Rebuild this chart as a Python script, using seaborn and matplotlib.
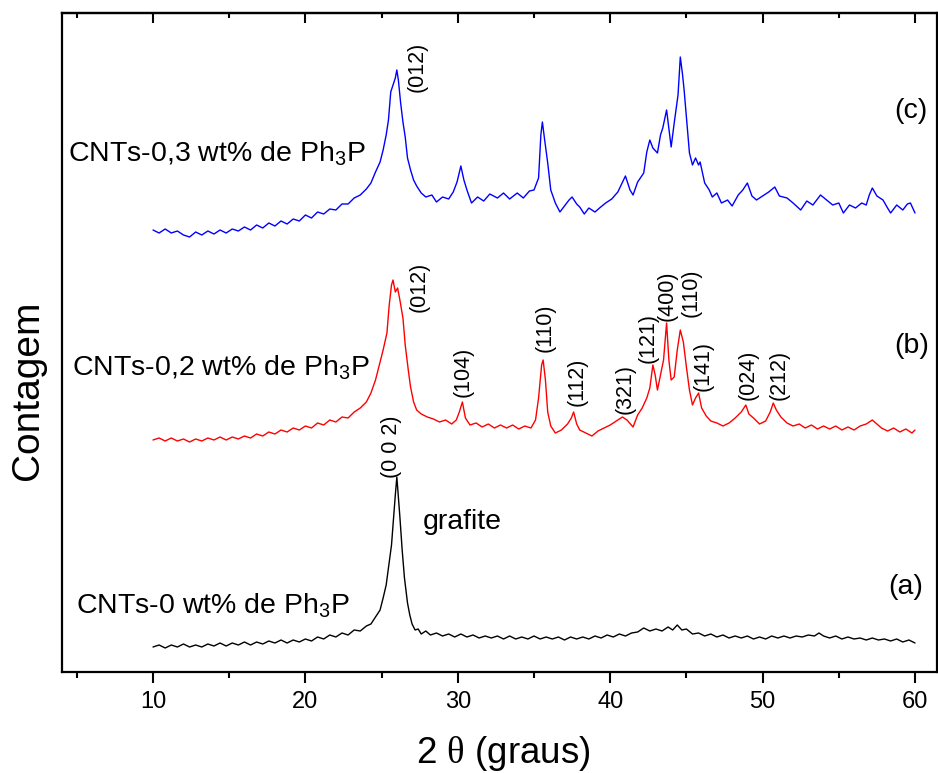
import numpy as np
import pandas as pd
import matplotlib
matplotlib.use("Agg")
import matplotlib.pyplot as plt
from matplotlib.ticker import FixedLocator
import seaborn as sns

# ---------------- data (2theta, intensity in arbitrary stacked units) ----------------
two_theta_a = [10.0, 10.4, 10.8, 11.2, 11.6, 12.0, 12.4, 12.8, 13.2, 13.6, 14.0, 14.4, 14.8, 15.2, 15.6,
               16.0, 16.4, 16.8, 17.2, 17.6, 18.0, 18.4, 18.8, 19.2, 19.6, 20.0, 20.4, 20.8, 21.2, 21.6,
               22.0, 22.4, 22.8, 23.2, 23.6, 24.0, 24.3, 24.6, 24.9, 25.1, 25.3, 25.5, 25.65, 25.8, 25.9,
               26.0, 26.1, 26.2, 26.35, 26.5, 26.7, 26.85, 27.0, 27.2, 27.4, 27.6, 27.9, 28.2, 28.6, 29.0,
               29.4, 29.8, 30.2, 30.6, 31.0, 31.4, 31.8, 32.2, 32.6, 33.0, 33.4, 33.8, 34.2, 34.6, 35.0,
               35.4, 35.8, 36.2, 36.6, 37.0, 37.4, 37.8, 38.2, 38.6, 39.0, 39.4, 39.8, 40.2, 40.6, 41.0,
               41.4, 41.8, 42.2, 42.6, 43.0, 43.4, 43.8, 44.1, 44.4, 44.7, 45.0, 45.4, 45.8, 46.2, 46.6,
               47.0, 47.4, 47.8, 48.2, 48.6, 49.0, 49.4, 49.8, 50.2, 50.6, 51.0, 51.4, 51.8, 52.2, 52.6,
               53.0, 53.4, 53.7, 54.0, 54.4, 54.8, 55.2, 55.6, 56.0, 56.4, 56.8, 57.2, 57.6, 58.0, 58.4,
               58.8, 59.2, 59.6, 60.0]
counts_a = [25, 27, 24, 27, 25, 28, 25, 27, 25, 28, 26, 29, 26, 29, 27,
            30, 27, 30, 28, 31, 29, 32, 29, 32, 30, 33, 31, 35, 33, 37,
            35, 39, 37, 42, 41, 46, 48, 55, 62, 74, 87, 110, 127, 157, 177,
            195, 175, 155, 122, 94, 69, 57, 48, 42, 43, 38, 41, 37, 39, 36,
            38, 35, 38, 35, 37, 34, 36, 34, 36, 33, 36, 33, 35, 33, 36,
            33, 35, 33, 35, 32, 35, 33, 35, 33, 36, 34, 37, 35, 38, 36,
            39, 40, 44, 41, 43, 41, 45, 42, 47, 42, 43, 38, 39, 36, 38,
            35, 37, 34, 36, 34, 36, 33, 35, 33, 36, 34, 36, 34, 36, 35,
            37, 36, 39, 36, 34, 36, 33, 35, 33, 34, 32, 34, 32, 33, 31,
            33, 30, 32, 29]

two_theta_b = [10.0, 10.4, 10.8, 11.2, 11.6, 12.0, 12.4, 12.8, 13.2, 13.6, 14.0, 14.4, 14.8, 15.2, 15.6,
               16.0, 16.4, 16.8, 17.2, 17.6, 18.0, 18.4, 18.8, 19.2, 19.6, 20.0, 20.4, 20.8, 21.2, 21.6,
               22.0, 22.4, 22.8, 23.2, 23.6, 24.0, 24.3, 24.6, 24.9, 25.1, 25.35, 25.5, 25.65, 25.75, 25.9,
               26.05, 26.2, 26.4, 26.55, 26.75, 26.9, 27.1, 27.3, 27.6, 28.0, 28.4, 28.8, 29.2, 29.6, 29.9,
               30.1, 30.3, 30.5, 30.8, 31.2, 31.6, 32.0, 32.4, 32.8, 33.2, 33.6, 34.0, 34.4, 34.8, 35.1,
               35.3, 35.5, 35.6, 35.75, 35.9, 36.1, 36.4, 36.8, 37.2, 37.45, 37.6, 37.8, 38.0, 38.4, 38.8,
               39.2, 39.6, 40.0, 40.4, 40.8, 41.1, 41.5, 41.8, 42.1, 42.4, 42.6, 42.8, 42.95, 43.1, 43.3,
               43.5, 43.7, 43.85, 44.0, 44.2, 44.4, 44.6, 44.8, 45.0, 45.2, 45.4, 45.6, 45.8, 46.0, 46.3,
               46.6, 47.0, 47.4, 47.8, 48.2, 48.6, 48.9, 49.1, 49.4, 49.8, 50.2, 50.5, 50.7, 50.9, 51.2,
               51.6, 52.0, 52.4, 52.8, 53.2, 53.6, 54.0, 54.4, 54.8, 55.2, 55.6, 56.0, 56.4, 56.8, 57.2,
               57.5, 57.8, 58.2, 58.6, 59.0, 59.4, 59.8, 60.0]
counts_b = [232, 234, 231, 234, 231, 233, 230, 233, 231, 234, 232, 235, 232, 235, 233,
            236, 234, 238, 236, 240, 238, 242, 240, 244, 242, 246, 244, 249, 247, 252,
            250, 255, 254, 260, 264, 270, 279, 292, 310, 322, 339, 367, 387, 392, 380,
            384, 372, 354, 327, 302, 285, 270, 262, 258, 255, 253, 250, 252, 248, 252,
            260, 270, 254, 247, 249, 245, 248, 244, 247, 244, 247, 243, 246, 244, 252,
            274, 307, 312, 292, 260, 246, 239, 242, 248, 254, 260, 248, 242, 239, 236,
            241, 244, 247, 251, 255, 252, 245, 257, 264, 274, 284, 307, 297, 282, 297,
            312, 349, 312, 292, 295, 322, 342, 330, 305, 282, 267, 274, 279, 264, 256,
            251, 249, 246, 249, 254, 260, 267, 258, 254, 248, 251, 260, 269, 262, 255,
            249, 246, 248, 244, 247, 243, 246, 243, 246, 242, 245, 242, 246, 248, 252,
            248, 244, 241, 244, 240, 243, 239, 242]

two_theta_c = [10.0, 10.4, 10.8, 11.2, 11.6, 12.0, 12.4, 12.8, 13.2, 13.6, 14.0, 14.4, 14.8, 15.2, 15.6,
               16.0, 16.4, 16.8, 17.2, 17.6, 18.0, 18.4, 18.8, 19.2, 19.6, 20.0, 20.4, 20.8, 21.2, 21.6,
               22.0, 22.4, 22.8, 23.2, 23.6, 24.0, 24.3, 24.6, 24.9, 25.1, 25.3, 25.45, 25.6, 25.75, 25.9,
               26.0, 26.1, 26.25, 26.4, 26.55, 26.7, 26.9, 27.1, 27.3, 27.6, 27.9, 28.3, 28.6, 29.0, 29.4,
               29.7, 29.95, 30.2, 30.4, 30.6, 30.9, 31.3, 31.7, 32.1, 32.6, 33.0, 33.4, 33.9, 34.3, 34.7,
               35.0, 35.3, 35.45, 35.55, 35.7, 35.9, 36.1, 36.4, 36.7, 37.0, 37.3, 37.5, 37.8, 38.0, 38.3,
               38.6, 39.0, 39.3, 39.7, 40.1, 40.5, 41.0, 41.3, 41.5, 41.8, 42.2, 42.4, 42.6, 42.8, 43.1,
               43.3, 43.45, 43.7, 43.9, 44.0, 44.2, 44.45, 44.6, 44.75, 44.85, 45.0, 45.2, 45.4, 45.6, 45.8,
               45.9, 46.2, 46.5, 46.7, 47.0, 47.3, 47.7, 48.0, 48.4, 48.7, 49.0, 49.3, 49.6, 50.0, 50.4,
               50.8, 51.1, 51.6, 52.0, 52.5, 52.9, 53.3, 53.8, 54.2, 54.6, 55.0, 55.3, 55.7, 56.1, 56.5,
               56.8, 57.0, 57.2, 57.5, 57.9, 58.2, 58.4, 58.8, 59.2, 59.5, 59.7, 60.0]
counts_c = [442, 439, 443, 439, 441, 437, 435, 440, 437, 441, 438, 442, 439, 443, 441,
            445, 442, 447, 444, 449, 446, 451, 448, 453, 451, 457, 454, 460, 458, 463,
            462, 468, 468, 474, 477, 483, 489, 500, 510, 522, 537, 552, 580, 587, 594,
            602, 592, 569, 550, 535, 514, 502, 492, 486, 479, 475, 477, 470, 475, 473,
            480, 490, 506, 492, 482, 469, 475, 471, 478, 474, 479, 473, 479, 474, 481,
            482, 494, 537, 550, 532, 509, 482, 469, 460, 466, 472, 475, 468, 465, 458,
            464, 460, 464, 469, 473, 480, 496, 482, 477, 490, 499, 520, 532, 524, 519,
            537, 544, 562, 537, 525, 549, 577, 615, 597, 582, 555, 519, 507, 514, 507,
            510, 489, 482, 475, 479, 469, 472, 466, 477, 482, 489, 476, 472, 476, 480,
            485, 476, 474, 469, 462, 471, 467, 477, 472, 467, 469, 459, 467, 464, 469,
            467, 477, 484, 476, 472, 464, 459, 467, 462, 468, 469, 459]

sample_names = ["CNTs-0 wt% de Ph$_\\mathsf{3}$P",
                "CNTs-0,2 wt% de Ph$_\\mathsf{3}$P",
                "CNTs-0,3 wt% de Ph$_\\mathsf{3}$P"]
panel_tags = ["(a)", "(b)", "(c)"]
line_colors = ["#000000", "#FF0000", "#0000FF"]

hkl_labels = ["(0 0 2)", "(012)", "(012)", "(104)", "(110)", "(112)", "(321)", "(121)",
              "(400)", "(110)", "(141)", "(024)", "(212)"]
x_ticks = [10, 20, 30, 40, 50, 60]
x_minor = [5, 15, 25, 35, 45, 55]

# ---------------- styling ----------------
sns.set_style("ticks")
plt.rcParams["font.family"] = ["Liberation Sans", "DejaVu Sans"]
plt.rcParams["mathtext.fontset"] = "custom"
plt.rcParams["mathtext.rm"] = "Liberation Serif"
plt.rcParams["mathtext.sf"] = "Liberation Sans"
plt.rcParams["mathtext.it"] = "Liberation Sans:italic"
plt.rcParams["text.color"] = "black"
plt.rcParams["axes.labelcolor"] = "black"
plt.rcParams["xtick.color"] = "black"
plt.rcParams["ytick.color"] = "black"

W, H = 938, 773
fig = plt.figure(figsize=(W / 100, H / 100), dpi=100)
L, R, T, B = 62, 937, 13, 672
ax = fig.add_axes([L / W, 1 - B / H, (R - L) / W, (B - T) / H])

frames = []
for name, xs, ys in zip(sample_names, [two_theta_a, two_theta_b, two_theta_c],
                        [counts_a, counts_b, counts_c]):
    frames.append(pd.DataFrame({"two_theta": xs, "counts": ys, "sample": name}))
df = pd.concat(frames, ignore_index=True)

sns.lineplot(data=df, x="two_theta", y="counts", hue="sample",
             palette=dict(zip(sample_names, line_colors)), estimator=None,
             sort=False, linewidth=1.0, legend=False, ax=ax)

X0, X1 = 10 + (L - 153) / 15.24, 10 + (R - 153) / 15.24
ax.set_xlim(X0, X1)
ax.set_ylim(0, B - T)


def px(xp, yp):
    return 10 + (xp - 153) / 15.24, B - yp


ax.xaxis.set_major_locator(FixedLocator(x_ticks))
ax.xaxis.set_minor_locator(FixedLocator(x_minor))
ax.set_yticks([])
ax.tick_params(axis="x", which="major", direction="out", length=8, width=1.5,
               labelsize=17, pad=6, colors="black", labelcolor="black")
ax.tick_params(axis="x", which="minor", direction="out", length=4, width=1.5, colors="black")
for s in ax.spines.values():
    s.set_linewidth(1.6)
    s.set_color("black")
ax.set_xlabel("")
ax.set_ylabel("")

top = ax.secondary_xaxis("top")
top.xaxis.set_major_locator(FixedLocator(x_ticks))
top.xaxis.set_minor_locator(FixedLocator(x_minor))
top.tick_params(axis="x", which="major", direction="in", length=7, width=1.5,
                labeltop=False, colors="black")
top.tick_params(axis="x", which="minor", direction="in", length=3.5, width=1.5, colors="black")
top.spines["top"].set_linewidth(1.6)
top.spines["top"].set_color("black")

for name, (xp, yp) in zip(sample_names, [(76, 613), (72, 375), (68, 162)]):
    ax.text(*px(xp, yp), name, fontsize=20.5, ha="left", va="baseline", color="black")

for tag, (xp, yp) in zip(panel_tags, [(906, 587), (912, 346), (911, 111)]):
    ax.text(*px(xp, yp), tag, fontsize=20.5, ha="center", va="center", color="black")

ax.text(*px(462, 522), "grafite", fontsize=20.5, ha="center", va="center", color="black")

hkl_pos = [(391, 447), (417, 67), (419, 287), (463, 372), (545, 328), (577, 382), (625, 389),
           (648, 338), (667, 296), (691, 293), (703, 366), (748, 375), (779, 375)]
for lab, (xp, yp) in zip(hkl_labels, hkl_pos):
    ax.text(*px(xp, yp), lab, fontsize=15.5, rotation=90, ha="center", va="center", color="black")

fig.text(503 / W, 1 - 734 / H, "2 $\\mathrm{\\theta}$ (graus)", fontsize=26.5,
         ha="center", va="top", color="black")
fig.text(28 / W, 1 - 390 / H, "Contagem", fontsize=28, rotation=90,
         ha="center", va="center", color="black")

fig.savefig("out.png", dpi=100)
